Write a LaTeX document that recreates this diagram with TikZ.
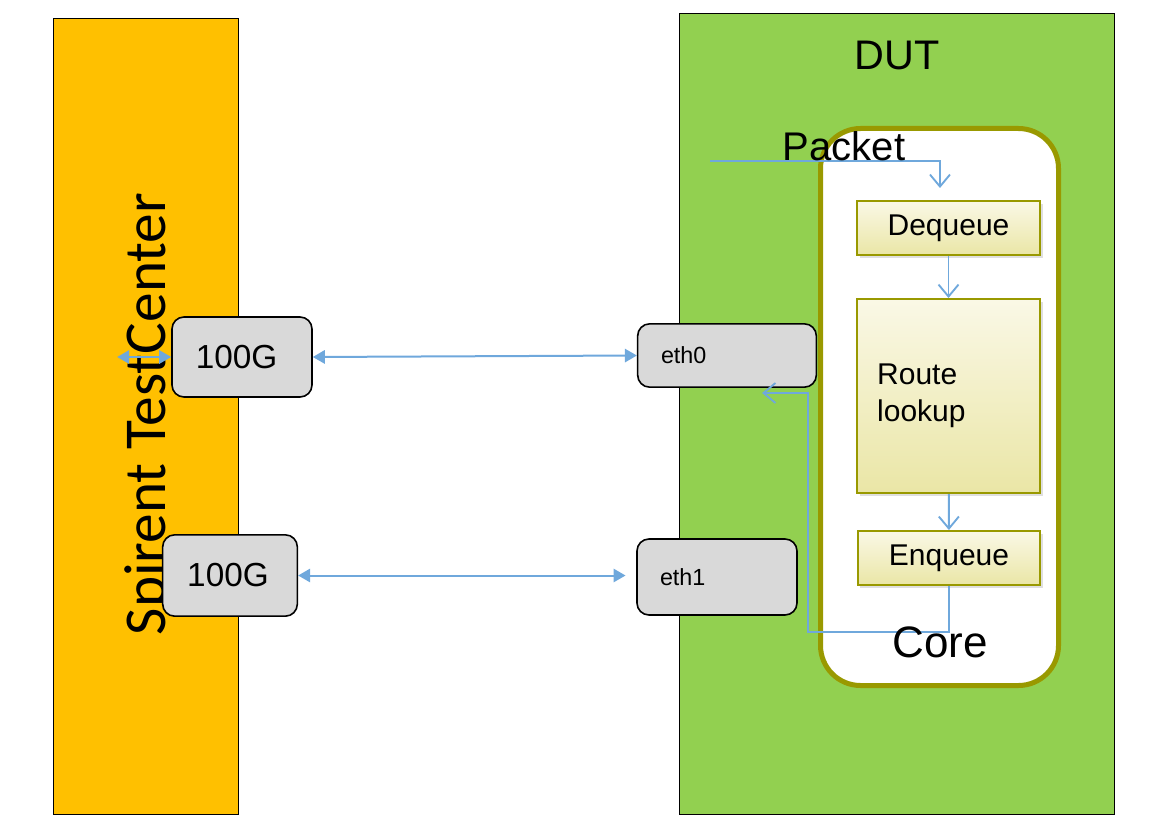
\documentclass[tikz,border=0pt]{standalone}
\usepackage{fontspec}
\setmainfont{Liberation Sans}
\newfontfamily\stcfont{Carlito}
\usetikzlibrary{arrows.meta,shadows}
\definecolor{stcorange}{HTML}{FFC000}
\definecolor{dutgreen}{HTML}{92D050}
\definecolor{coreolive}{HTML}{999900}
\definecolor{portgray}{HTML}{D9D9D9}
\definecolor{flowblue}{HTML}{6FA8DC}
\definecolor{stagetop}{HTML}{FAF8E6}
\definecolor{stagebot}{HTML}{EAE6A6}

\begin{document}
\begin{tikzpicture}[x=0.75pt,y=-0.75pt,
		port/.style={draw,line width=1.2pt,fill=portgray,rounded corners=9pt},
		stage/.style={draw=coreolive,line width=1.5pt,top color=stagetop,bottom color=stagebot,minimum width=137pt,font=\fontsize{22.5}{28}\selectfont,drop shadow={opacity=0.25,shadow xshift=2pt,shadow yshift=-2pt}},
		link/.style={flowblue,line width=1.5pt,{Triangle[length=9pt,width=10pt]}-{Triangle[length=9pt,width=10pt]}},
		flow/.style={flowblue,line width=1.4pt,-{Straight Barb[length=9pt,width=15pt]}}]
			\useasboundingbox (0,0) rectangle (1170,834);
			\node[draw,fill=stcorange,minimum width=138.5pt,minimum height=596.75pt] (stc) at (146,416.5) {};
			\node[draw,fill=dutgreen,minimum width=326pt,minimum height=600.5pt] (dut) at (897,414) {};
			\node[draw=coreolive,line width=3.75pt,fill=white,rounded corners=30pt,minimum width=178.5pt,minimum height=417.75pt] (core) at (939.5,407) {};
			\node[rotate=90,anchor=base,font=\stcfont\fontsize{44.5}{50}\selectfont] (stclabel) at (165,414) {Spirent TestCenter};
			\node[port,minimum width=105pt,minimum height=60pt,font=\fontsize{25}{30}\selectfont] (g100a) at (242,357) {100G\kern8pt};
			\node[port,minimum width=101pt,minimum height=61pt,font=\fontsize{25}{30}\selectfont] (g100b) at (230,575.5) {100G\kern3pt};
			\node[port,minimum width=134pt,minimum height=47.5pt,text width=99pt,inner xsep=17.25pt,align=left,font=\fontsize{17.5}{21}\selectfont] (eth0) at (727,355.5) {eth0};
			\node[port,minimum width=120pt,minimum height=57pt,text width=85.5pt,inner xsep=17.25pt,align=left,font=\fontsize{17.5}{21}\selectfont] (eth1) at (717,577) {eth1};
			\node[stage,minimum height=40.5pt] (deq) at (948.5,228) {Dequeue};
			\node[stage,minimum height=145.5pt,text width=107pt,inner xsep=15pt,align=left] (route) at (948.5,396) {Route\\lookup};
			\node[stage,minimum height=40.5pt] (enq) at (949,558) {Enqueue};
			\coordinate (pktin) at (710,161);
			\coordinate (eth1in) at ([xshift=-8pt]eth1.west);
			\coordinate (loopbot) at (808,632);
			\coordinate (ret) at (762,393);
			\draw[link] (g100a.east) -- (eth0.west);
			\draw[link] (g100b.east) -- (eth1in |- g100b.east);
			\draw[link] ([xshift=-40.5pt]g100a.west) -- (g100a.west);
			\draw[flow] (pktin) -| ([xshift=-6.4pt,yshift=9pt]deq.north);
			\draw[flow] (deq) -- (route);
			\draw[flow] (route) -- (enq);
			\draw[flow] (enq.south) |- (loopbot) |- (ret);
			\node[anchor=base,font=\fontsize{31}{37}\selectfont] (dutlabel) at (897,70) {DUT};
			\node[anchor=base,font=\fontsize{30}{36}\selectfont] (pktlabel) at (844,161) {Packet};
			\node[anchor=base,font=\fontsize{33}{40}\selectfont] (corelabel) at (940,657) {Core};
		\end{tikzpicture}
\end{document}
